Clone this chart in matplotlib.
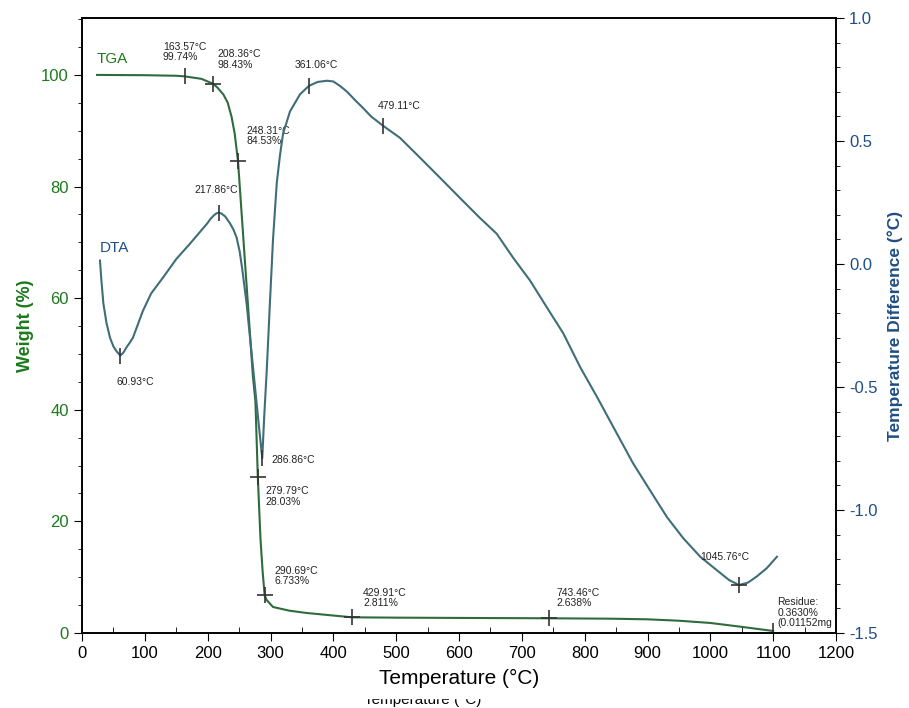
import matplotlib.pyplot as plt
from matplotlib.ticker import MultipleLocator
from matplotlib.patches import Rectangle

plt.rcParams['font.family'] = ['Liberation Sans', 'DejaVu Sans']

# TGA curve (temperature in degC, weight in %)
tga_T = [24, 100, 150, 163.57, 190, 208.36, 215, 225, 232, 238, 243, 248.31, 256, 264,
         272, 276, 279.79, 284, 287.5, 290.69, 294, 304, 330, 358, 429.91, 500, 600,
         743.46, 845, 900, 950, 1000, 1050, 1100]
tga_W = [100.0, 99.95, 99.85, 99.74, 99.3, 98.43, 97.8, 96.5, 95.0, 92.5, 89.5, 84.53,
         72, 59, 46, 41.5, 28.03, 17, 11, 6.733, 5.9, 4.66, 4.0, 3.58, 2.811, 2.75, 2.7,
         2.638, 2.56, 2.45, 2.2, 1.8, 1.1, 0.363]

# DTA curve (temperature in degC, temperature difference in degC)
dta_T = [28.6, 31, 34, 39, 44.6, 50, 55, 60.93, 66, 71, 76, 81, 89, 97, 110, 129, 150,
         172, 199, 205, 210, 214, 217.86, 222, 228, 235.6, 241, 246, 251, 255, 262,
         272.7, 280, 286.86, 290, 294, 299, 304, 310, 315, 320, 331, 347, 361.06, 375,
         390, 400, 410, 422, 435, 447, 460, 479.11, 506, 538, 570, 606, 633, 660, 686,
         713, 740, 766, 793, 820, 851, 877, 904, 931, 957, 984, 1010, 1030, 1045.76,
         1060, 1074, 1090, 1106]
dta_D = [0.014, -0.07, -0.16, -0.24, -0.30, -0.335, -0.355, -0.372, -0.36, -0.338,
         -0.32, -0.30, -0.245, -0.19, -0.12, -0.055, 0.02, 0.083, 0.164, 0.185, 0.198,
         0.206, 0.209, 0.205, 0.193, 0.165, 0.14, 0.108, 0.05, -0.02, -0.162, -0.433,
         -0.62, -0.79, -0.62, -0.433, -0.161, 0.10, 0.33, 0.44, 0.53, 0.62, 0.69, 0.724,
         0.74, 0.745, 0.742, 0.725, 0.70, 0.665, 0.635, 0.60, 0.562, 0.513, 0.432, 0.35,
         0.257, 0.188, 0.123, 0.026, -0.067, -0.177, -0.282, -0.42, -0.542, -0.688,
         -0.81, -0.92, -1.029, -1.115, -1.19, -1.244, -1.285, -1.305, -1.295, -1.27,
         -1.236, -1.19]

# labelled points: (T, value, label, marker, offset in px)
tga_marks = [
    (163.57, 99.74, "163.57°C\n99.74%", "|", (-22, 14)),
    (208.36, 98.43, "208.36°C\n98.43%", "+", (5, 14)),
    (248.31, 84.53, "248.31°C\n84.53%", "+", (8, 15)),
    (279.79, 28.03, "279.79°C\n28.03%", "+", (8, -30)),
    (290.69, 6.733, "290.69°C\n6.733%", "+", (10, 9)),
    (429.91, 2.811, "429.91°C\n2.811%", "+", (11, 9)),
    (743.46, 2.638, "743.46°C\n2.638%", "+", (7, 10)),
    (1100, 0.363, "Residue:\n0.3630%\n(0.01152mg", "|", (4, 3)),
]
dta_marks = [
    (60.93, -0.372, "60.93°C", "|", (-4, -31)),
    (217.86, 0.209, "217.86°C", "|", (-24, 18)),
    (286.86, -0.79, "286.86°C", "|", (9, -7)),
    (361.06, 0.724, "361.06°C", "|", (-14, 16)),
    (479.11, 0.562, "479.11°C", "|", (-5, 15)),
    (1045.76, -1.305, "1045.76°C", "+", (-39, 23)),
]

TGA_COLOR = "#2f6b3c"
DTA_COLOR = "#3f6d78"
GREEN_TXT = "#1c7a1c"
BLUE_TXT = "#1f4e86"

fig = plt.figure(figsize=(9.09, 7.08), dpi=100)
ax = fig.add_axes([82 / 909, 1 - 633 / 708, (836 - 82) / 909, (633 - 18) / 708])
ax2 = ax.twinx()

ax.plot(tga_T, tga_W, color=TGA_COLOR, lw=1.5, zorder=3)
ax2.plot(dta_T, dta_D, color=DTA_COLOR, lw=1.5, zorder=3)

for axis, marks in ((ax, tga_marks), (ax2, dta_marks)):
    for t, v, txt, mk, (dx, dy) in marks:
        axis.plot([t], [v], marker=mk, ms=11, mew=1.2, color="#333333", zorder=4)
        axis.annotate(txt, xy=(t, v), xytext=(dx, dy), textcoords="offset pixels",
                      ha="left", va="bottom", fontsize=7.5, color="#222222",
                      linespacing=1.05)

ax.text(24, 102.2, "TGA", color=GREEN_TXT, fontsize=11)
ax2.text(28, 0.05, "DTA", color=BLUE_TXT, fontsize=11)

ax.set_xlim(0, 1200)
ax.set_ylim(0, 110.2)
ax2.set_ylim(-1.5, 1.0)

ax.xaxis.set_major_locator(MultipleLocator(100))
ax.xaxis.set_minor_locator(MultipleLocator(50))
ax.yaxis.set_major_locator(MultipleLocator(20))
ax.yaxis.set_minor_locator(MultipleLocator(5))
ax2.yaxis.set_major_locator(MultipleLocator(0.5))
ax2.yaxis.set_minor_locator(MultipleLocator(0.1))

ax.tick_params(axis="x", which="major", direction="out", length=6, labelsize=12, pad=3)
ax.tick_params(axis="x", which="minor", direction="in", length=4)
ax.tick_params(axis="y", which="major", direction="out", length=6, labelsize=12,
               labelcolor=GREEN_TXT)
ax.tick_params(axis="y", which="minor", direction="out", length=3)
ax2.tick_params(axis="y", which="major", direction="out", length=6, labelsize=12,
                labelcolor=BLUE_TXT)
ax2.tick_params(axis="y", which="minor", direction="out", length=3)
ax2.set_yticks([1.0, 0.5, 0.0, -0.5, -1.0, -1.5])
ax2.set_yticklabels(["1.0", "0.5", "0.0", "-0.5", "-1.0", "-1.5"])

ax.set_xlabel("Temperature (°C)", fontsize=15, labelpad=6)
ax.set_ylabel("Weight (%)", fontsize=13, color=GREEN_TXT, fontweight="bold", labelpad=5)
ax2.set_ylabel("Temperature Difference (°C)", fontsize=12.5, color=BLUE_TXT,
               fontweight="bold", labelpad=7)

for sp in ax.spines.values():
    sp.set_linewidth(1.2)
for sp in ax2.spines.values():
    sp.set_linewidth(1.2)

# second, partly hidden axis title at the bottom edge
fig.text(423 / 909, 1 / 708, "Temperature (°C)", ha="center", va="bottom", fontsize=11)
fig.patches.append(Rectangle((360 / 909, 10 / 708), 130 / 909, 5 / 708,
                             transform=fig.transFigure, color="white", zorder=10))

fig.savefig("out.png", dpi=100, facecolor="white")
